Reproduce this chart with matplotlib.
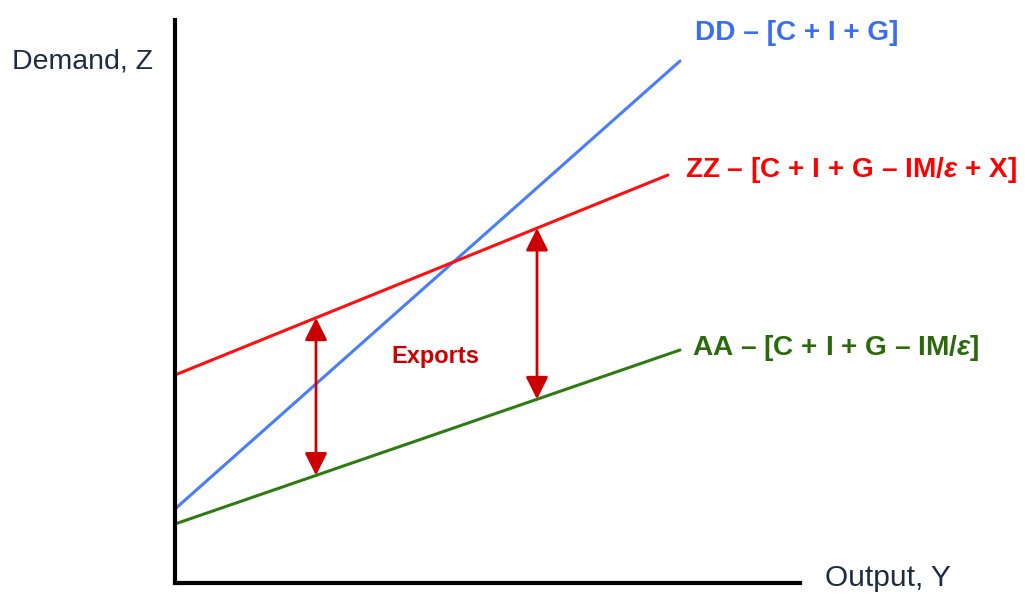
import numpy as np
import matplotlib
matplotlib.use('Agg')
import matplotlib.pyplot as plt

plt.rcParams['mathtext.fontset'] = 'custom'
plt.rcParams['mathtext.rm'] = 'Liberation Sans:bold'
plt.rcParams['mathtext.it'] = 'Liberation Sans:italic:bold'
plt.rcParams['mathtext.bf'] = 'Liberation Sans:bold'

# lines: (start y, end y, end x) in axis units, all start at x=0
names = ['DD', 'ZZ', 'AA']
labels = ['DD – [C + I + G]',
          'ZZ – [C + I + G – IM/$\\varepsilon$ + X]',
          'AA – [C + I + G – IM/$\\varepsilon$]']
y_start = [74, 208, 59]
y_end = [522, 408, 233]
x_end = [505, 493, 505]
line_colors = ['#4a7dfb', '#ff1010', '#2f7a14']
text_colors = ['#3a6df0', '#ff0000', '#2a6a0a']
label_pos = [(520, 550), (510, 413), (517, 235)]

# arrows showing exports between ZZ and AA
arrow_x = [141, 362]

fig = plt.figure(figsize=(10.25, 5.98), dpi=100)
ax = fig.add_axes([175 / 1025, 15 / 598, 625 / 1025, 563 / 598])
ax.set_xlim(0, 625)
ax.set_ylim(0, 563)
for s in ['top', 'right']:
    ax.spines[s].set_visible(False)
for s in ['left', 'bottom']:
    ax.spines[s].set_linewidth(3)
    ax.spines[s].set_color('black')
ax.set_xticks([])
ax.set_yticks([])

lines = {}
for n, y0, y1, x1, c in zip(names, y_start, y_end, x_end, line_colors):
    xs = np.array([0, x1])
    ys = np.array([y0, y1])
    lines[n] = (xs, ys)
    ax.plot(xs, ys, color=c, lw=2.2, solid_capstyle='round', clip_on=False)

for lab, (lx, ly), c in zip(labels, label_pos, text_colors):
    ax.text(lx, ly, lab, color=c, fontsize=20.2, fontweight='bold',
            family=['Liberation Sans', 'DejaVu Sans'],
            va='center', ha='left', clip_on=False)

for xa in arrow_x:
    top = np.interp(xa, *lines['ZZ'])
    bot = np.interp(xa, *lines['AA'])
    ax.annotate('', xy=(xa, bot), xytext=(xa, top),
                arrowprops=dict(arrowstyle='<|-|>', color='#cc0000', lw=2,
                                mutation_scale=34, shrinkA=0, shrinkB=0))

ax.text(260, 226, 'Exports', color='#cc0000', fontsize=17, fontweight='bold',
        family='Liberation Sans', ha='center', va='center')

ax.text(-163, 522, 'Demand, Z', color='#1f2a44', fontsize=20.5,
        family='Liberation Sans', ha='left', va='center', clip_on=False)
ax.text(650, 5, 'Output, Y', color='#1f2a44', fontsize=21.5,
        family='Liberation Sans', ha='left', va='center', clip_on=False)

fig.savefig('out.png', dpi=100)
